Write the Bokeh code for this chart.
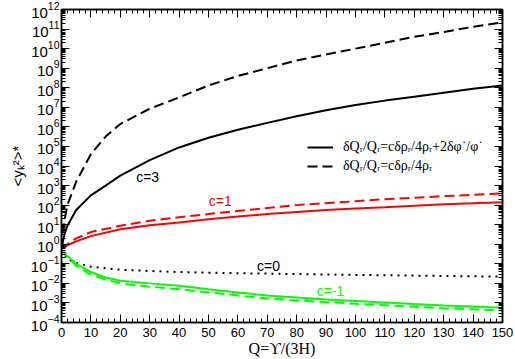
from bokeh.plotting import figure
from bokeh.models import (Range1d, FixedTicker, LinearAxis, LogAxis, Label, Legend, LegendItem,
                          CustomJSTickFormatter)
from bokeh.embed import file_html
from bokeh.resources import INLINE

# ---------------- data ----------------
x_c3 = [0, 1, 2, 5, 10, 15, 20, 30, 40, 50, 60, 70, 80, 90, 100, 110, 120, 130, 140, 150]
c3_solid = [0.63, 3.2, 8.9, 56, 316, 1.0e3, 3.2e3, 2.0e4, 8.9e4, 2.8e5, 7.1e5, 1.6e6, 3.5e6,
            7.1e6, 1.3e7, 2.2e7, 3.5e7, 5.6e7, 8.9e7, 1.3e8]
c3_dashed = [0.63, 16, 100, 1.6e3, 4.0e4, 3.2e5, 1.4e6, 8.5e6, 3.2e7, 1.3e8, 4.0e8, 1.0e9, 2.5e9,
             5.0e9, 1.0e10, 2.0e10, 4.0e10, 7.1e10, 1.3e11, 2.2e11]

x_c1 = [0, 2, 5, 10, 20, 30, 40, 50, 60, 70, 80, 90, 100, 110, 120, 130, 140, 150]
c1_solid = [0.56, 0.89, 1.4, 2.6, 5.9, 9.3, 13, 19, 26, 35, 45, 56, 68, 79, 93, 110, 126, 141]
c1_dashed = [0.56, 1.0, 2.0, 4.2, 8.9, 16, 24, 35, 50, 71, 100, 126, 158, 200, 240, 288, 339, 398]

x_c0 = [0, 2, 5, 10, 20, 30, 40, 60, 80, 100, 120, 150]
c0_dotted = [0.56, 0.178, 0.112, 0.071, 0.050, 0.043, 0.038, 0.033, 0.030, 0.027, 0.025, 0.022]

x_cm1 = [0, 2, 5, 10, 15, 20, 30, 40, 50, 60, 70, 80, 90, 100, 110, 120, 130, 140, 150]
cm1_solid = [0.56, 0.25, 0.10, 0.038, 0.020, 0.0135, 0.010, 0.0076, 0.0050, 0.0034, 0.0024,
             0.0019, 0.0015, 0.00126, 0.00105, 0.00087, 0.00074, 0.00065, 0.00056]
cm1_dashed = [0.56, 0.22, 0.079, 0.028, 0.0158, 0.010, 0.0068, 0.0050, 0.0035, 0.0024, 0.0017,
              0.00135, 0.0011, 0.00091, 0.00076, 0.00063, 0.00054, 0.00047, 0.0004]

x_ticks = [0, 10, 20, 30, 40, 50, 60, 70, 80, 90, 100, 110, 120, 130, 140, 150]
y_exponents = [-4, -3, -2, -1, 0, 1, 2, 3, 4, 5, 6, 7, 8, 9, 10, 11, 12]

legend_solid = "δQᵣ/Qᵣ=cδρᵣ/4ρᵣ+2δφ˙/φ˙"
legend_dashed = "δQᵣ/Qᵣ=cδρᵣ/4ρᵣ"
x_title = "Q=ϒ/(3H)"
y_title = "<yₖ²>*"

# ---------------- figure ----------------
SANS = "Liberation Sans"
SERIF = "Liberation Serif"

p = figure(width=515, height=359, x_range=Range1d(0, 150), y_range=Range1d(1e-4, 1e12),
           y_axis_type="log", output_backend="svg", toolbar_location=None,
           min_border_left=61, min_border_right=13, min_border_top=9, min_border_bottom=35)
p.xgrid.visible = False
p.ygrid.visible = False
p.outline_line_color = "black"
p.outline_line_width = 1.5
p.background_fill_color = "white"
p.border_fill_color = "white"

x_minor = [v for v in range(0, 151, 2) if v % 10 != 0]
y_major = [10.0 ** e for e in y_exponents]
y_minor = [k * 10.0 ** e for e in y_exponents[:-1] for k in range(2, 10)]

def style_axis(ax, labels):
    ax.axis_line_color = "black"
    ax.axis_line_width = 1.5
    ax.major_tick_line_color = "black"
    ax.minor_tick_line_color = "black"
    ax.major_tick_in = 8
    ax.major_tick_out = 0
    ax.minor_tick_in = 4
    ax.minor_tick_out = 0
    if labels:
        ax.major_label_text_font = SANS
        ax.major_label_text_color = "black"
    else:
        ax.formatter = CustomJSTickFormatter(code="return ''")
        ax.major_label_text_font_size = "1px"
        ax.major_label_standoff = 0

xb = p.xaxis[0]
xb.ticker = FixedTicker(ticks=x_ticks, minor_ticks=x_minor)
style_axis(xb, True)
xb.major_label_text_font_size = "13px"
xb.major_label_standoff = 5
xb.axis_label = x_title
xb.axis_label_text_font = SERIF
xb.axis_label_text_font_style = "normal"
xb.axis_label_text_font_size = "16px"
xb.axis_label_text_color = "black"
xb.axis_label_standoff = 0

yl = p.yaxis[0]
yl.ticker = FixedTicker(ticks=y_major, minor_ticks=y_minor)
style_axis(yl, True)
yl.major_label_text_font_size = "15px"
yl.major_label_standoff = 2
yl.axis_label = y_title
yl.axis_label_text_font = SANS
yl.axis_label_text_font_style = "normal"
yl.axis_label_text_font_size = "15px"
yl.axis_label_text_color = "black"
yl.axis_label_standoff = 2

xa = LinearAxis(ticker=FixedTicker(ticks=x_ticks, minor_ticks=x_minor))
style_axis(xa, False)
p.add_layout(xa, "above")
yr = LogAxis(ticker=FixedTicker(ticks=y_major, minor_ticks=y_minor))
style_axis(yr, False)
p.add_layout(yr, "right")

# ---------------- curves ----------------
BLACK, RED, GREEN = "#000000", "#ff0000", "#00ff00"
DASH = "10 5"
r_sol = p.line(x_c3, c3_solid, line_color=BLACK, line_width=2)
r_das = p.line(x_c3, c3_dashed, line_color=BLACK, line_width=2, line_dash=DASH)
p.line(x_c1, c1_solid, line_color=RED, line_width=2)
p.line(x_c1, c1_dashed, line_color=RED, line_width=2, line_dash=DASH)
p.line(x_c0, c0_dotted, line_color=BLACK, line_width=2, line_dash="2 5")
p.line(x_cm1, cm1_solid, line_color=GREEN, line_width=2)
p.line(x_cm1, cm1_dashed, line_color=GREEN, line_width=2, line_dash=DASH)

# curve labels
for txt, lx, ly, col in [("c=3", 29.3, 2.6e3, BLACK), ("c=1", 54, 160, RED),
                         ("c=0", 70.4, 0.079, BLACK), ("c=-1", 91.5, 0.0043, GREEN)]:
    p.add_layout(Label(x=lx, y=ly, text=txt, text_align="center", text_baseline="middle",
                       text_font=SANS, text_font_size="14px", text_color=col))

# ---------------- legend ----------------
legend = Legend(items=[LegendItem(label=legend_solid, renderers=[r_sol]),
                       LegendItem(label=legend_dashed, renderers=[r_das])],
                location=(246, 148), orientation="vertical",
                border_line_alpha=0, background_fill_alpha=0,
                glyph_width=26, glyph_height=14, label_height=14, label_standoff=10,
                spacing=3, padding=0, margin=0,
                label_text_font=SERIF, label_text_font_size="14px", label_text_color="black")
p.add_layout(legend)

open("out.html", "w").write(file_html(p, INLINE))
